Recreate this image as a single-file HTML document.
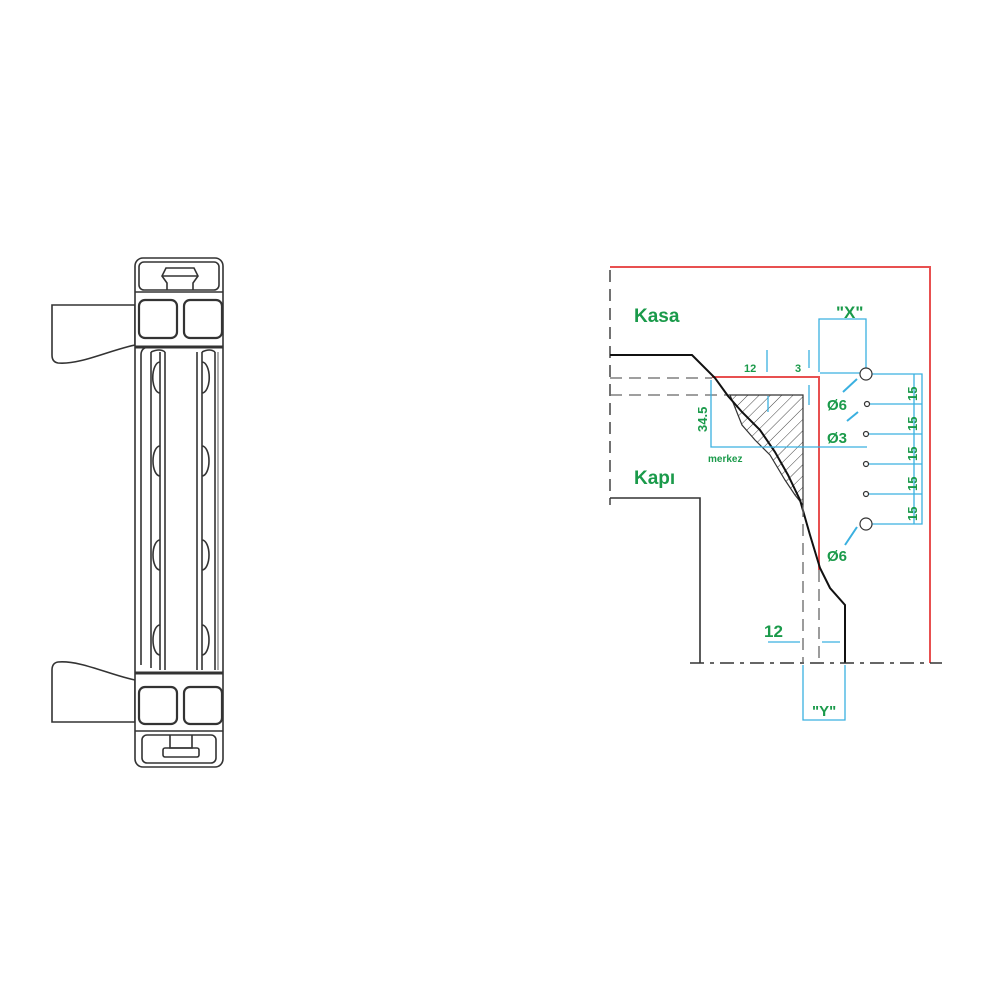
<!DOCTYPE html>
<html><head><meta charset="utf-8"><style>
html,body{margin:0;padding:0;background:#fff;width:1000px;height:1000px;overflow:hidden}
svg{display:block}
text{font-family:"Liberation Sans",sans-serif;fill:#1a9a4a;font-weight:bold}
</style></head><body>
<svg width="1000" height="1000" viewBox="0 0 1000 1000">
<g fill="none" stroke="#333" stroke-width="1.6">
<path d="M52 305 H135 V345 C110 350 80 365 58 363 Q52 362 52 355 Z" fill="#fff"/>
<path d="M52 722 H135 V680 C110 675 80 660 58 662 Q52 663 52 670 Z" fill="#fff"/>
<rect x="135" y="258" width="88" height="509" rx="8" fill="#fff"/>
<rect x="139" y="262" width="80" height="28" rx="5"/>
<path d="M167 290 V283 L162 276 L166 268 H194 L198 276 L193 283 V290"/>
<line x1="162" y1="276" x2="198" y2="276"/>
<line x1="135" y1="292" x2="223" y2="292"/>
<rect x="139" y="300" width="38" height="38" rx="6" stroke-width="2.2"/>
<rect x="184" y="300" width="38" height="38" rx="6" stroke-width="2.2"/>
<line x1="135" y1="347" x2="223" y2="347" stroke-width="3"/>
<line x1="135" y1="673" x2="223" y2="673" stroke-width="3"/>
<line x1="141" y1="355" x2="141" y2="665"/>
<line x1="151" y1="352" x2="151" y2="668"/>
<line x1="160" y1="352" x2="160" y2="670"/>
<line x1="165" y1="352" x2="165" y2="670"/>
<line x1="197" y1="352" x2="197" y2="670"/>
<line x1="202" y1="352" x2="202" y2="670"/>
<line x1="215" y1="352" x2="215" y2="670"/>
<line x1="218" y1="352" x2="218" y2="670" stroke="#999"/>
<path d="M141 355 Q141 347 150 347 M151 352 Q160 348 165 352 M202 352 Q210 348 215 352"/>
<path d="M160 362 A7 15 0 0 0 160 393 M160 446 A7 15 0 0 0 160 476 M160 540 A7 15 0 0 0 160 570 M160 625 A7 15 0 0 0 160 655"/>
<path d="M202 362 A7 15 0 0 1 202 393 M202 446 A7 15 0 0 1 202 476 M202 540 A7 15 0 0 1 202 570 M202 625 A7 15 0 0 1 202 655"/>
<rect x="139" y="687" width="38" height="37" rx="6" stroke-width="2.2"/>
<rect x="184" y="687" width="38" height="37" rx="6" stroke-width="2.2"/>
<line x1="135" y1="731" x2="223" y2="731"/>
<rect x="142" y="735" width="74" height="28" rx="5"/>
<path d="M170 735 V748 H192 V735"/>
<rect x="163" y="748" width="36" height="9" rx="2"/>
</g>
<g fill="none">
<path d="M610 267 H930 V663" stroke="#e85050" stroke-width="2"/>
<path d="M712 377 H819 V570" stroke="#e85050" stroke-width="2"/>
<line x1="610" y1="270" x2="610" y2="505" stroke="#444" stroke-width="1.5" stroke-dasharray="12 7"/>
<line x1="610" y1="378" x2="712" y2="378" stroke="#666" stroke-width="1.3" stroke-dasharray="12 7"/>
<line x1="610" y1="395" x2="730" y2="395" stroke="#666" stroke-width="1.3" stroke-dasharray="12 7"/>
<defs><pattern id="h" width="8" height="8" patternUnits="userSpaceOnUse" patternTransform="rotate(45)"><line x1="0" y1="0" x2="0" y2="8" stroke="#444" stroke-width="1"/></pattern></defs>
<path d="M730 395 H803 V505 L795 495 L785 480 L770 455 L755 440 L742 425 Z" fill="url(#h)" stroke="#333" stroke-width="1.2"/>
<path d="M610 355 H692 L715 378 L728 396 L742 412 L760 430 L775 452 L788 475 L800 500 L810 535 L820 568 L830 588 L845 605 V663" stroke="#111" stroke-width="2"/>
<path d="M610 498 H700 V663" stroke="#333" stroke-width="1.6"/>
<line x1="690" y1="663" x2="942" y2="663" stroke="#333" stroke-width="1.5" stroke-dasharray="14 6 4 6"/>
<line x1="803" y1="505" x2="803" y2="663" stroke="#666" stroke-width="1.3" stroke-dasharray="12 7"/>
<line x1="819" y1="570" x2="819" y2="663" stroke="#666" stroke-width="1.3" stroke-dasharray="12 7"/>
<g stroke="#3ab0e0" stroke-width="1.3">
<path d="M711 380 V447 H867"/>
<line x1="767" y1="350" x2="767" y2="372"/>
<line x1="768" y1="396" x2="768" y2="412"/>
<line x1="809" y1="350" x2="809" y2="368"/>
<line x1="809" y1="385" x2="809" y2="405"/>
<path d="M819 372 V319 H866 V368"/>
<path d="M820 373 H860 M872 374 H922 V524 H872 M870 404 H922 M869 434 H922 M869 464 H922 M869 494 H922 M872 524 H922"/>
<line x1="914" y1="374" x2="914" y2="524"/>
<line x1="857" y1="379" x2="843" y2="392" stroke-width="2"/>
<line x1="858" y1="412" x2="847" y2="421" stroke-width="2"/>
<line x1="857" y1="527" x2="845" y2="545" stroke-width="2"/>
<line x1="768" y1="642" x2="800" y2="642"/>
<line x1="822" y1="642" x2="840" y2="642"/>
<path d="M803 665 V720 H845 V665"/>
</g>
<g stroke="#333" stroke-width="1.2" fill="#fff">
<circle cx="866" cy="374" r="6"/><circle cx="866" cy="524" r="6"/>
<circle cx="867" cy="404" r="2.5"/><circle cx="866" cy="434" r="2.5"/><circle cx="866" cy="464" r="2.5"/><circle cx="866" cy="494" r="2.5"/>
</g>
</g>
<text x="634" y="322" font-size="19">Kasa</text>
<text x="634" y="484" font-size="19">Kapı</text>
<text x="744" y="372" font-size="11">12</text>
<text x="795" y="372" font-size="11">3</text>
<text x="836" y="318" font-size="17">"X"</text>
<text x="827" y="410" font-size="15">Ø6</text>
<text x="827" y="443" font-size="15">Ø3</text>
<text x="827" y="561" font-size="15">Ø6</text>
<text x="708" y="462" font-size="10">merkez</text>
<text font-size="13" transform="translate(707,432) rotate(-90)">34.5</text>
<text font-size="13" transform="translate(917,401) rotate(-90)">15</text>
<text font-size="13" transform="translate(917,431) rotate(-90)">15</text>
<text font-size="13" transform="translate(917,461) rotate(-90)">15</text>
<text font-size="13" transform="translate(917,491) rotate(-90)">15</text>
<text font-size="13" transform="translate(917,521) rotate(-90)">15</text>
<text x="764" y="637" font-size="17">12</text>
<text x="812" y="716" font-size="15">"Y"</text>
</svg>
</body></html>
